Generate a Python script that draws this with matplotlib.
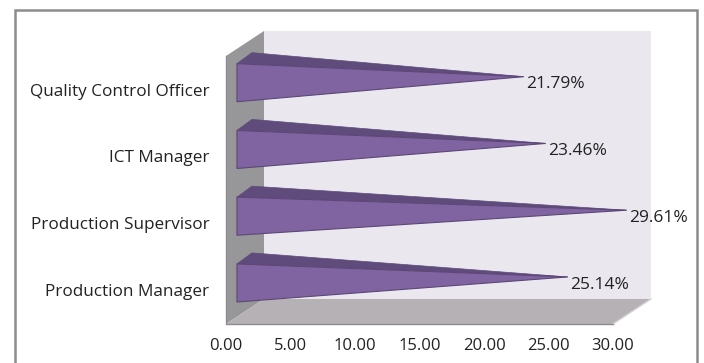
import matplotlib
matplotlib.use("Agg")
import matplotlib.pyplot as plt
from matplotlib.patches import Polygon, Rectangle

categories = ["Production Manager", "Production Supervisor", "ICT Manager", "Quality Control Officer"]
values = [25.14, 29.61, 23.46, 21.79]
x_ticks = [0, 5, 10, 15, 20, 25, 30]

W, H = 704, 363
plt.rcParams["font.family"] = ["Open Sans", "DejaVu Sans"]

fig = plt.figure(figsize=(W / 100, H / 100), dpi=100)
ax = fig.add_axes([226 / W, 1 - 324 / H, 387 / W, 268 / H])
ax.set_xlim(0, 30)
ax.set_ylim(-0.615, 3.4)
ax.patch.set_visible(False)
for s in ax.spines.values():
    s.set_visible(False)

# chart frame
fig.add_artist(Rectangle((14.5 / W, -0.02), 682.5 / W, 1 - 9.5 / H + 0.02, transform=fig.transFigure,
                         fill=False, edgecolor="#8C8C8C", linewidth=1.8))

# fake 3d box
dx, dy = 2.946, 0.375
y0, y1 = -0.615, 3.4
ax.add_patch(Polygon([(dx, y0 + dy), (30 + dx, y0 + dy), (30 + dx, y1 + dy), (dx, y1 + dy)],
                     facecolor="#EAE7EF", edgecolor="none", clip_on=False, zorder=1))
ax.add_patch(Polygon([(0, y0), (dx, y0 + dy), (dx, y1 + dy), (0, y1)],
                     facecolor="#979698", edgecolor="none", clip_on=False, zorder=2))
ax.add_patch(Polygon([(0, y0), (30, y0), (30 + dx, y0 + dy), (dx, y0 + dy)],
                     facecolor="#B5B1B5", edgecolor="none", clip_on=False, zorder=2))
ax.plot([0, 0, 30], [y1, y0, y0], color="#8E8C8E", lw=1, clip_on=False, zorder=3)
ax.plot([30, 30 + dx, 30 + dx], [y0, y0 + dy, y0 + dy], color="#D5D2D8", lw=1, clip_on=False, zorder=2)

# cone-like bars
x_off = 0.85
bar_half = 0.285
depth_x, depth_y = 1.16, 0.165
tip_dy = 0.09
for i, v in enumerate(values):
    tip = (x_off + v * 1.02, i + tip_dy)
    ax.add_patch(Polygon([(x_off, i + bar_half), (x_off + depth_x, i + bar_half + depth_y), tip],
                         facecolor="#5F4B7C", edgecolor="#5F4B7C", lw=0.5, clip_on=False, zorder=4))
    ax.add_patch(Polygon([(x_off, i + bar_half), tip, (x_off, i - bar_half)],
                         facecolor="#8064A2", edgecolor="#5C4776", lw=0.8, clip_on=False, zorder=5))
    ax.text(tip[0] + 0.2, i + tip_dy - 0.115, f"{v:.2f}%", fontsize=12.5, color="#222222",
            ha="left", va="center", clip_on=False, zorder=6)

ax.set_xticks(x_ticks)
ax.set_xticklabels([f"{t:.2f}" for t in x_ticks], fontsize=12, color="#222222")
ax.set_yticks([i - 0.105 for i in range(len(categories))])
ax.set_yticklabels(categories, fontsize=12.35, color="#222222")
ax.tick_params(axis="both", length=0)
ax.tick_params(axis="x", pad=10)
ax.tick_params(axis="y", pad=12)

fig.savefig("out.png", dpi=100)
